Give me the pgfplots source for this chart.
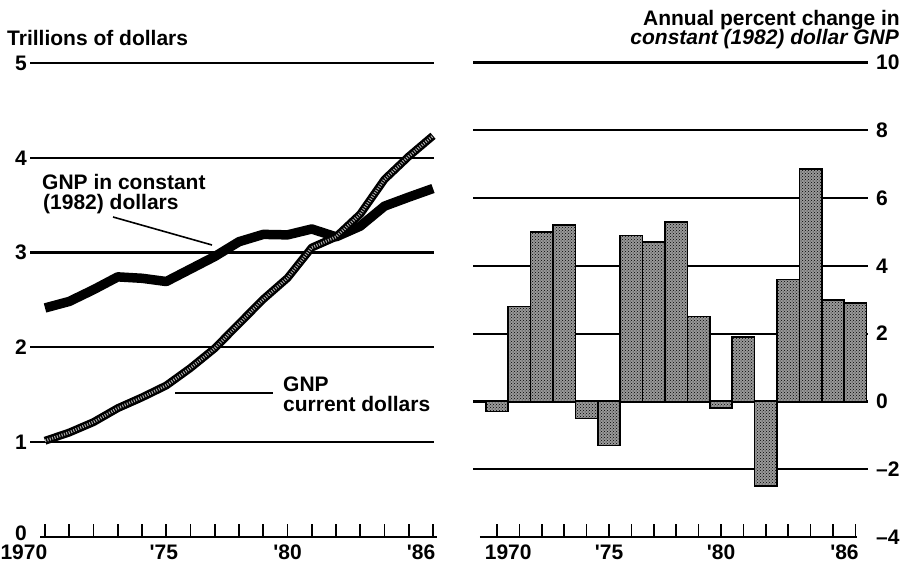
\documentclass[border=0pt]{standalone}
\usepackage{fontspec}
\setmainfont{Liberation Sans}
\usepackage{pgfplots}
\pgfplotsset{compat=1.18}
\usetikzlibrary{patterns}
\newcommand{\cf}{\bfseries\fontsize{21}{23}\selectfont}
\pgfplotstableread{
year real nominal change
1970 2.416 1.015 -0.3
1971 2.485 1.102 2.8
1972 2.609 1.212 5.0
1973 2.744 1.359 5.2
1974 2.729 1.473 -0.5
1975 2.695 1.598 -1.3
1976 2.827 1.783 4.9
1977 2.959 1.991 4.7
1978 3.115 2.250 5.3
1979 3.192 2.508 2.5
1980 3.187 2.732 -0.2
1981 3.249 3.053 1.9
1982 3.166 3.166 -2.5
1983 3.279 3.406 3.6
1984 3.490 3.772 6.85
1985 3.585 4.015 3.0
1986 3.676 4.232 2.9
}\gnp
\begin{document}
\begin{tikzpicture}[x=1pt,y=1pt]
\path[use as bounding box] (0pt,0pt) rectangle (910pt,565pt);
% ---------------- left panel
\begin{axis}[
 at={(30pt,28pt)}, anchor=south west, scale only axis,
 width=404.2pt, height=474pt,
 xmin=1969.38, xmax=1986.05, ymin=0, ymax=5,
 axis line style={draw=none},
 xtick={1970,...,1986}, xticklabels={}, xtick pos=bottom, tick align=inside,
 major tick length=13pt, xtick style={line width=1.6pt, black},
 ytick={1,2,3,4,5}, yticklabels={1,2,3,4,5}, ytick style={draw=none},
 extra y ticks={0}, extra y tick labels={0},
 extra y tick style={grid=none, ytick style={draw=none}, yticklabel style={yshift=4pt}},
 ymajorgrids, grid style={line width=2.2pt, black},
 yticklabel style={font=\cf, anchor=east, inner sep=0pt, xshift=-3pt},
 clip=false,
]
\addplot[black, line width=9.5pt, line join=round] table[x=year, y=real] {\gnp};
\addplot[black, line width=8pt, line join=round] table[x=year, y=nominal] {\gnp};
\addplot[gray!65, line width=3pt, dash pattern=on 1pt off 1.5pt] table[x=year, y=nominal] {\gnp};
\draw[line width=1.8pt] (axis cs:1969.8,0) -- (axis cs:1986.15,0);
\node[font=\cf, anchor=north east, inner sep=0pt, yshift=-8pt] at (axis cs:1970.1,0) {1970};
\node[font=\cf, anchor=north, inner sep=0pt, yshift=-8pt] at (axis cs:1974.9,0) {\textquotesingle75};
\node[font=\cf, anchor=north, inner sep=0pt, yshift=-8pt] at (axis cs:1980.0,0) {\textquotesingle80};
\node[font=\cf, anchor=north east, inner sep=0pt, yshift=-8pt] at (axis cs:1986.1,0) {\textquotesingle86};
\end{axis}
% ---------------- right panel
\begin{axis}[
 at={(473pt,28pt)}, anchor=south west, scale only axis,
 width=395pt, height=474.5pt,
 xmin=1968.93, xmax=1986.56, ymin=-4, ymax=10,
 axis line style={draw=none},
 xtick={1970,...,1986}, xticklabels={}, xtick pos=bottom, tick align=inside,
 major tick length=13pt, xtick style={line width=1.6pt, black},
 ytick={-2,0,2,4,6,8,10}, yticklabels={\textendash2,0,2,4,6,8,10}, ytick style={draw=none},
 extra y ticks={-4}, extra y tick labels={\textendash4}, extra y tick style={grid=none, ytick style={draw=none}},
 ymajorgrids, grid style={line width=2.2pt, black},
 yticklabel pos=right,
 yticklabel style={font=\cf, anchor=west, inner sep=0pt, xshift=8pt},
 clip=false,
]
\addplot[ybar, bar width=1, draw=black, line width=1.6pt, fill=black!40, postaction={pattern=crosshatch dots, pattern color=black}] table[x=year, y=change] {\gnp};
\draw[line width=1.8pt] (axis cs:1969.24,-4) -- (axis cs:1986.09,-4);
\node[font=\cf, anchor=north, inner sep=0pt, yshift=-8pt] at (axis cs:1970.5,-4) {1970};
\node[font=\cf, anchor=north, inner sep=0pt, yshift=-8pt] at (axis cs:1975.0,-4) {\textquotesingle75};
\node[font=\cf, anchor=north, inner sep=0pt, yshift=-8pt] at (axis cs:1980.0,-4) {\textquotesingle80};
\node[font=\cf, anchor=north east, inner sep=0pt, yshift=-8pt] at (axis cs:1986.15,-4) {\textquotesingle86};
\end{axis}
% ---------------- titles and annotations
\node[font=\cf, anchor=base west, inner sep=0pt] at (7pt,519pt) {Trillions of dollars};
\node[font=\cf, anchor=base east, inner sep=0pt] at (900pt,539pt) {Annual percent change in};
\node[font=\cf\itshape, anchor=base east, inner sep=0pt] at (899pt,520pt) {constant (1982) dollar GNP};
\node[font=\cf, anchor=base west, inner sep=0pt] at (42pt,375pt) {GNP in constant};
\node[font=\cf, anchor=base west, inner sep=0pt] at (43pt,355pt) {(1982) dollars};
\draw[line width=1.6pt] (113pt,348pt) -- (212pt,320pt);
\node[font=\cf, anchor=base west, inner sep=0pt] at (283pt,173pt) {GNP};
\node[font=\cf, anchor=base west, inner sep=0pt] at (283pt,153pt) {current dollars};
\draw[line width=1.6pt] (175pt,172pt) -- (273pt,172pt);
\end{tikzpicture}
\end{document}
